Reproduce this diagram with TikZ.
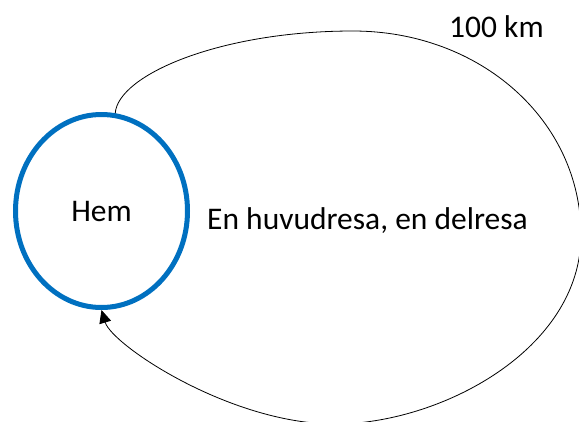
\documentclass[tikz,border=0pt]{standalone}
\usepackage{fontspec}
\setmainfont{Carlito}
\usepackage{tikz}
\usetikzlibrary{shapes.geometric,arrows.meta}

\definecolor{homeblue}{RGB}{0,112,192}
\tikzset{
  home/.style={ellipse, draw=homeblue, line width=5pt, inner sep=0pt,
    minimum width=172pt, minimum height=193pt},
  label/.style={inner sep=0pt, font=\fontsize{31.5}{38}\selectfont},
  trip/.style={line width=0.8pt, -{Triangle[length=13pt,width=12pt]}}
}

\begin{document}
\begin{tikzpicture}[x=1pt,y=-1pt]
        % ---- page frame ---------------------------------
        \useasboundingbox (0,0) rectangle (579,421);
        \clip (0,0) rectangle (579,421);

        % ---- home and labels ----------------------------
        \node[home, label] (hem) at (101.5,211) {Hem};
        \node[label, anchor=base west] (trips) at (207,229) {En huvudresa, en delresa};
        \node[label, anchor=base west] (dist) at (449,37) {100 km};

        % ---- the loop out and back ----------------------
        \coordinate (top)    at (353,31);
        \coordinate (far)    at (581,235);
        \coordinate (bottom) at (335,424);
        \draw[trip] (hem.82) .. controls (118,75) and (220,31) .. (top)
              .. controls (480,31) and (581,120) .. (far)
              .. controls (581,350) and (440,424) .. (bottom)
              .. controls (230,424) and (112,345) .. (hem.south);
\end{tikzpicture}
\end{document}
